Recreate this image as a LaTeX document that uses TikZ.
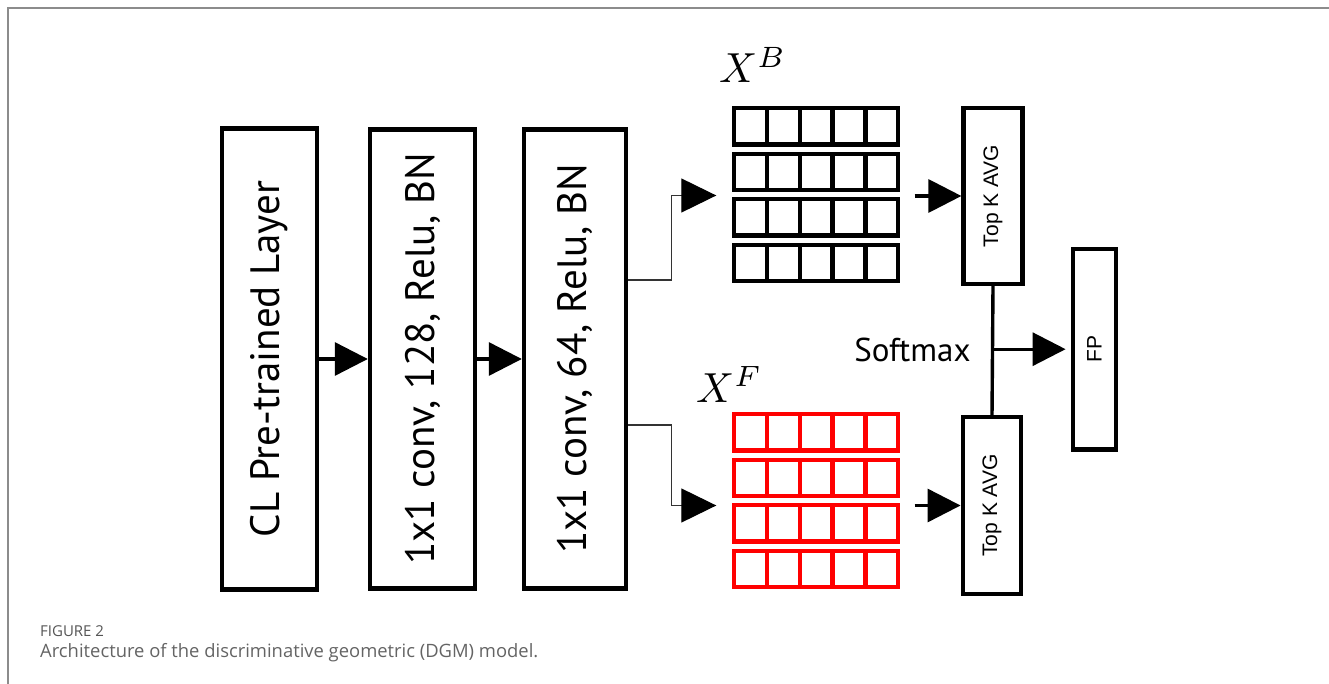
\documentclass[tikz,border=0pt]{standalone}
\usepackage{fontspec}
\setmainfont{PT Sans}
\newfontfamily\capfont{Open Sans}
\newfontfamily\tagfont{Liberation Sans}
\usetikzlibrary{arrows.meta}
\definecolor{framegray}{RGB}{140,140,140}
\definecolor{capgray}{RGB}{100,100,100}
\definecolor{capdark}{RGB}{85,85,85}
\definecolor{mapred}{RGB}{255,0,0}

\begin{document}
\begin{tikzpicture}[x=1pt,y=-1pt,
  layerbox/.style={draw=black, line width=4.4pt, inner sep=0pt, fill=white},
  bigtext/.style={font=\fontsize{41}{41}\selectfont},
  smalltext/.style={font=\tagfont\fontsize{21}{21}\selectfont},
  flow/.style={line width=3.2pt, -{Triangle[length=33pt,width=33pt]}},
  branch/.style={line width=1.2pt, draw=black!80, -{Triangle[length=35pt,width=34pt,color=black]}},
  cellrow/.style={line width=4.3pt},
  holder/.style={inner sep=0pt, minimum width=169pt, minimum height=179pt},
  maplabel/.style={anchor=base west, inner sep=0pt}
]
\useasboundingbox (0,0) rectangle (1329,684);

% page frame
\draw[framegray, line width=1.7pt] (7.7,684) -- (7.7,7.7) -- (1329,7.7);

% processing layers
\node[layerbox, bigtext, minimum width=95pt, minimum height=461pt] (cl) at (269.5,359)
  {\rotatebox{90}{CL Pre-trained Layer}};
\node[layerbox, bigtext, minimum width=105pt, minimum height=459pt] (c128) at (422.5,359)
  {\rotatebox{90}{1x1 conv, 128, Relu, BN}};
\node[layerbox, bigtext, minimum width=102pt, minimum height=459pt] (c64) at (575,359)
  {\rotatebox{90}{1x1 conv, 64, Relu, BN}};

\draw[flow] (cl.east) -- (c128.west);
\draw[flow] (c128.east) -- (c64.west);

% feature maps
\node[holder] (gridB) at (816,195.5) {};
\node[holder] (gridF) at (816,501.2) {};
\foreach \top/\col in {108.2/black, 414.2/mapred}{
  \foreach \i in {0,...,3}{
    \pgfmathsetmacro\yt{\top+45.5*\i}
    \draw[cellrow, draw=\col] (734,\yt) rectangle (898.3,\yt+36.3);
    \foreach \x in {766.9,799.7,832.6,865.4}
      \draw[cellrow, draw=\col] (\x,\yt) -- (\x,\yt+36.3);
  }
}
\node[maplabel] (labB) at (719,83) {\scalebox{4.2}{$X^B$}};
\node[maplabel] (labF) at (696,402) {\scalebox{4.2}{$X^F$}};

% pooling
\node[layerbox, smalltext, minimum width=58.8pt, minimum height=175.6pt] (topkB) at (993,196)
  {\rotatebox{90}{Top K AVG}};
\node[layerbox, smalltext, minimum width=58.5pt, minimum height=176.6pt] (topkF) at (992,505.5)
  {\rotatebox{90}{Top K AVG}};
\node[layerbox, smalltext, minimum width=43.4pt, minimum height=200.7pt] (fp) at (1094.5,349.2)
  {\rotatebox{90}{FP}};

\coordinate (tapB) at (0,280);
\coordinate (tapF) at (0,425);
\draw[branch] (c64.east |- tapB) -| ([xshift=-60pt]gridB.west) -- ([xshift=-15pt]gridB.west);
\draw[branch] (c64.east |- tapF) -| ([xshift=-60pt]gridF.west |- topkF.west) -- ([xshift=-15pt]gridF.west |- topkF.west);

\draw[flow] ([xshift=14pt]gridB.east |- topkB.west) -- (topkB.west);
\draw[flow] ([xshift=14pt]gridF.east |- topkF.west) -- (topkF.west);

\draw[line width=3.4pt] (topkB.south) -- (topkF.north);
\draw[flow, shorten >=5pt] (topkB.south |- fp.west) -- (fp.west);
\node[anchor=base east, font=\fontsize{33}{33}\selectfont] (smx) at (974,361) {Softmax};

% caption
\node[anchor=base west, inner sep=0pt, text=capdark, font=\capfont\fontsize{15}{15}\selectfont] (figno) at (40,636) {FIGURE 2};
\node[anchor=base west, inner sep=0pt, text=capgray, font=\capfont\fontsize{18.4}{18.4}\selectfont] (cap) at (40,657)
  {Architecture of the discriminative geometric (DGM) model.};
\end{tikzpicture}
\end{document}
